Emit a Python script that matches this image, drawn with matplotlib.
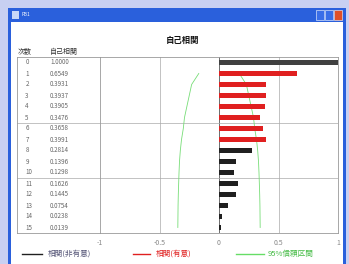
import matplotlib
matplotlib.use('Agg')
import matplotlib.pyplot as plt
from matplotlib.patches import Rectangle

plt.rcParams['font.family'] = ['Noto Sans CJK JP', 'DejaVu Sans']

# データ
lags = list(range(16))
acf = [1.0000, 0.6549, 0.3931, 0.3937, 0.3905, 0.3476, 0.3658, 0.3991,
       0.2814, 0.1396, 0.1298, 0.1626, 0.1445, 0.0754, 0.0238, 0.0139]
significant = [False, True, True, True, True, True, True, True,
               False, False, False, False, False, False, False, False]
conf_lags = list(range(1, 16))
conf_limit = [0.17, 0.23, 0.25, 0.27, 0.29, 0.30, 0.315, 0.325,
              0.332, 0.336, 0.339, 0.342, 0.344, 0.345, 0.346]
xticks = [-1, -0.5, 0, 0.5, 1]
xtick_labels = ['-1', '-0.5', '0', '0.5', '1']

W, H = 349, 264
fig = plt.figure(figsize=(W / 100, H / 100), dpi=100)
fig.patch.set_facecolor('#c8d0f2')


def fx(px):
    return px / W


def fy(py):
    return 1 - py / H


def frame_rect(x, y0, w, y1, col, **kw):
    # ウィンドウ装飾（ピクセル座標）
    fig.patches.append(Rectangle((fx(x), fy(y1)), fx(w), fy(y0) - fy(y1),
                                 transform=fig.transFigure, facecolor=col,
                                 zorder=-10, **kw))


# ウィンドウ枠
frame_rect(8, 8, 338, 264, '#2a60dc', edgecolor='none')
frame_rect(11, 22, 332, 264, 'white', edgecolor='none')
frame_rect(12, 11, 7, 19, '#c8d8f8', edgecolor='none')
fig.text(fx(22), fy(15), 'FB1', fontsize=3.5, color='white', va='center')
for bx, col in [(316, '#3a6ee8'), (325, '#3a6ee8'), (334, '#e0502a')]:
    frame_rect(bx, 10, 8, 20, col, edgecolor='white', linewidth=0.4)

# グラフ領域
top, bottom = 57, 233
ax = fig.add_axes([fx(100), fy(bottom), fx(338) - fx(100), fy(top) - fy(bottom)])
tab = fig.add_axes([fx(17), fy(bottom), fx(100) - fx(17), fy(top) - fy(bottom)], sharey=ax)
ax.patch.set_alpha(0)
tab.patch.set_alpha(0)

colors = ['#e02020' if s else '#202020' for s in significant]
colors[0] = '#404040'
ax.barh(lags, acf, height=0.38, color=colors, zorder=3)
ax.plot(conf_limit, conf_lags, color='#77dd77', lw=0.6, zorder=2)
ax.plot([-c for c in conf_limit], conf_lags, color='#77dd77', lw=0.6, zorder=2)

ax.set_xlim(-1, 1)
ax.set_ylim(15.5, -0.5)
ax.axvline(0, color='#555555', lw=0.6, zorder=1)
for gx in [-0.5, 0.5]:
    ax.axvline(gx, color='#aaaaaa', lw=0.5, zorder=1)
for a in (ax, tab):
    for gy in [5.5, 10.5]:
        a.axhline(gy, color='#aaaaaa', lw=0.5, zorder=1)
ax.set_xticks(xticks)
ax.set_xticklabels(xtick_labels, fontsize=5, color='#888888')
ax.tick_params(axis='x', length=0, pad=4)
ax.tick_params(axis='y', left=False, labelleft=False)
for side in ['left', 'top', 'right', 'bottom']:
    ax.spines[side].set_color('#999999')
    ax.spines[side].set_linewidth(0.6)
ax.spines['left'].set_visible(False)

# 表
tab.set_xlim(0, 1)
tab.tick_params(left=False, bottom=False, labelleft=False, labelbottom=False)
for side in ['left', 'top', 'right', 'bottom']:
    tab.spines[side].set_color('#999999')
    tab.spines[side].set_linewidth(0.6)
for lag, v in zip(lags, acf):
    tab.text(0.10, lag, str(lag), fontsize=4.5, color='#666666', ha='left', va='center')
    tab.text(0.40, lag, f'{v:.4f}', fontsize=4.5, color='#666666', ha='left', va='center')
fig.text(fx(18), fy(52), '次数', fontsize=5, color='#333333', va='center')
fig.text(fx(50), fy(52), '自己相関', fontsize=5, color='#333333', va='center')

fig.text(fx(183), fy(40), '自己相関', fontsize=6, color='#111111', ha='center', va='center',
         fontweight='bold')

# 凡例
ly = fy(254)
for x0, x1, tx, col, tcol, label in [
        (22, 42, 48, '#202020', '#555577', '相関(非有意)'),
        (133, 150, 156, '#e02020', '#e02020', '相関(有意)'),
        (236, 264, 268, '#66dd66', '#44bb44', '95%信頼区間')]:
    fig.add_artist(plt.Line2D([fx(x0), fx(x1)], [ly, ly], color=col, lw=1.0,
                              transform=fig.transFigure))
    fig.text(fx(tx), ly, label, fontsize=5.5, color=tcol, va='center')

fig.savefig('out.png', dpi=100)
